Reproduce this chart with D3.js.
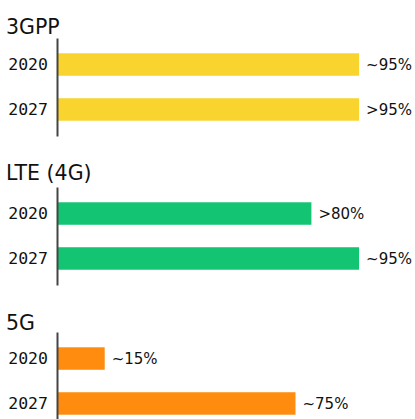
<!DOCTYPE html>
<html><head><meta charset="utf-8">
<script src="https://cdn.jsdelivr.net/npm/d3@7"></script>
<style>body{margin:0;background:#fff}svg{display:block}</style>
</head><body>
<script>
const groups = ["3GPP", "LTE (4G)", "5G"];
const years = ["2020", "2027"];
const values = [[95, 95], [80, 95], [15, 75]];
const valueLabels = [["~95%", ">95%"], [">80%", "~95%"], ["~15%", "~75%"]];
const colors = ["#f9d42f", "#13c473", "#ff8c0e"];

const W = 415, H = 419;
const panelTop = [38, 187, 332];
const titleBase = [34, 180, 330];
const svg = d3.select("body").append("svg").attr("width", W).attr("height", H);
const x = d3.scaleLinear().domain([0, 100]).range([57, 375]);
const y = d3.scaleBand().domain(years).range([0, 98]).paddingInner(0.5).paddingOuter(0.34);

groups.forEach((g, gi) => {
  const p = svg.append("g").attr("transform", `translate(0,${panelTop[gi]})`);
  svg.append("text").attr("x", 6).attr("y", titleBase[gi])
    .attr("font-family", "DejaVu Sans").attr("font-size", 20.5).attr("fill", "#111").text(g);
  p.selectAll("rect").data(values[gi]).join("rect")
    .attr("x", x(0)).attr("y", (d, i) => y(years[i]))
    .attr("width", d => x(d) - x(0)).attr("height", y.bandwidth())
    .attr("fill", colors[gi]);
  p.selectAll("text.v").data(values[gi]).join("text").attr("class", "v")
    .attr("x", d => x(d) + 7).attr("y", (d, i) => y(years[i]) + y.bandwidth() / 2 + 5.5)
    .attr("font-family", "DejaVu Sans").attr("font-size", 15).attr("fill", "#111")
    .text((d, i) => valueLabels[gi][i]);
  const ax = p.append("g").attr("transform", `translate(${x(0)},0)`)
    .call(d3.axisLeft(y).tickSize(0).tickPadding(9));
  ax.select(".domain").attr("stroke", "#444").attr("stroke-width", 2);
  ax.selectAll("text").attr("font-family", "DejaVu Sans Mono").attr("font-size", 16.5).attr("fill", "#111");
});
</script>
</body></html>
